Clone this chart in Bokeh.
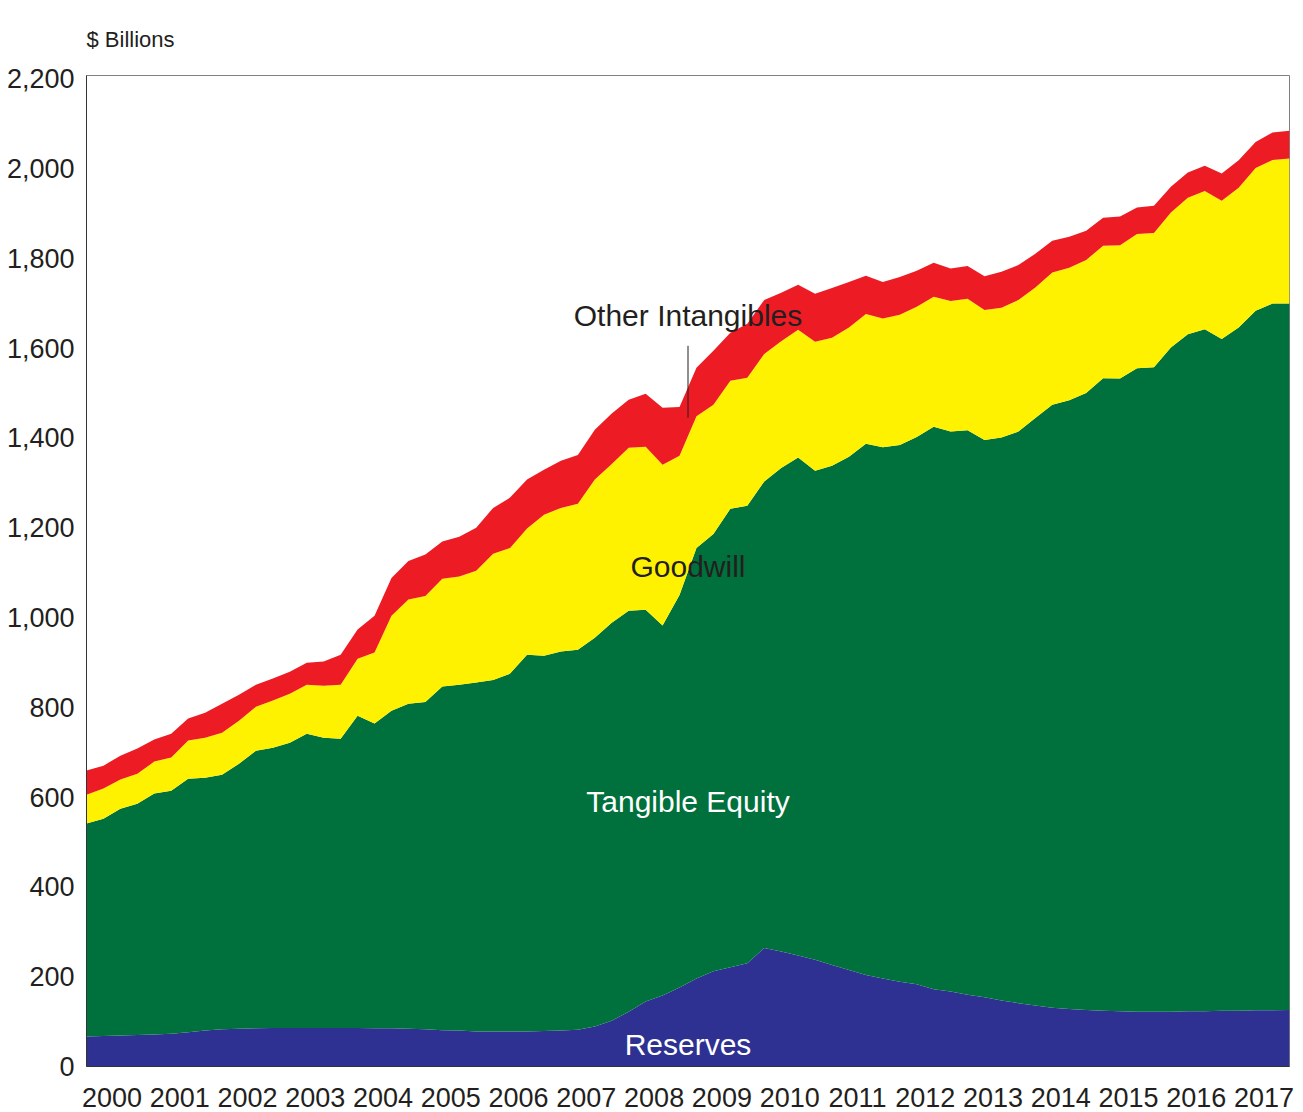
from bokeh.plotting import figure
from bokeh.models import ColumnDataSource, FixedTicker, NumeralTickFormatter, Label, Range1d
from bokeh.embed import file_html
from bokeh.resources import INLINE

# Tick labels (calendar years); data are quarterly, 2000Q1 .. 2017Q4
years = ["2000", "2001", "2002", "2003", "2004", "2005", "2006", "2007", "2008",
         "2009", "2010", "2011", "2012", "2013", "2014", "2015", "2016", "2017"]
quarters = [f"{y}Q{q}" for y in years for q in range(1, 5)]

# $ billions
reserves = [67, 68, 69, 70, 71, 73, 76, 80, 83, 84, 85, 86, 86, 86, 86, 86,
            86, 85, 85, 84, 83, 81, 80, 78, 78, 78, 78, 79, 80, 82, 89, 102,
            122, 145, 158, 176, 196, 212, 221, 230, 264, 256, 247, 238, 226, 215, 204, 196,
            189, 183, 172, 167, 160, 154, 147, 141, 136, 131, 128, 126, 124, 123, 122, 122,
            122, 123, 123, 124, 124, 125, 125, 126]
tangible_equity = [474, 484, 505, 515, 537, 541, 565, 563, 567, 590, 618, 624, 635, 655, 646, 644,
                   695, 679, 707, 724, 729, 765, 770, 777, 783, 797, 839, 836, 844, 846, 866, 886,
                   893, 872, 824, 874, 959, 974, 1021, 1019, 1039, 1077, 1109, 1089, 1112, 1143, 1183, 1183,
                   1195, 1219, 1253, 1247, 1257, 1241, 1254, 1273, 1308, 1343, 1356, 1374, 1409, 1409, 1433, 1435,
                   1479, 1508, 1519, 1496, 1522, 1558, 1574, 1573]
goodwill = [64, 67, 65, 67, 71, 74, 85, 89, 93, 96, 98, 105, 109, 109, 116, 120,
            127, 158, 212, 232, 236, 240, 241, 249, 281, 280, 281, 314, 320, 325, 352, 354,
            363, 363, 358, 310, 293, 288, 285, 285, 284, 282, 285, 287, 285, 288, 289, 287,
            290, 290, 289, 291, 293, 290, 289, 293, 291, 294, 295, 296, 295, 297, 299, 299,
            301, 304, 308, 308, 311, 318, 320, 323]
other_intangibles = [54, 51, 53, 56, 49, 53, 49, 56, 65, 58, 49, 49, 49, 49, 54, 67,
                     65, 82, 84, 86, 92, 83, 89, 96, 102, 112, 109, 100, 105, 109, 111, 112,
                     107, 118, 127, 109, 108, 120, 107, 120, 120, 108, 100, 107, 111, 101, 85, 81,
                     84, 80, 76, 72, 73, 75, 80, 78, 75, 71, 69, 65, 62, 64, 59, 61,
                     57, 56, 56, 61, 61, 58, 61, 62]

series_names = ["Reserves", "Tangible Equity", "Goodwill", "Other Intangibles"]
colors = ["#2E3192", "#00703C", "#FFF200", "#ED1C24"]

source = ColumnDataSource(dict(
    x=list(range(len(quarters))),
    q=quarters,
    Reserves=reserves,
    **{"Tangible Equity": tangible_equity},
    Goodwill=goodwill,
    **{"Other Intangibles": other_intangibles},
))

FONT = "Liberation Sans"
TXT = "#231F20"
n = len(quarters)

p = figure(width=1301, height=1112,
           x_range=Range1d(0, n - 1), y_range=Range1d(0, 2207),
           output_backend="svg", toolbar_location=None,
           min_border_left=86, min_border_top=75, min_border_right=12, min_border_bottom=46)

p.varea_stack(stackers=series_names, x="x", color=colors, source=source)

# unit caption above the frame, left aligned with it
p.title.text = "$ Billions"
p.title.text_font = FONT
p.title.text_font_size = "22px"
p.title.text_font_style = "normal"
p.title.text_color = TXT
p.title.align = "left"
p.title.standoff = 47

# axes
p.xgrid.visible = False
p.ygrid.visible = False
p.outline_line_color = "#808080"
p.outline_line_width = 1

bottom_axis = p.below[0]
left_axis = p.left[0]

left_axis.ticker = FixedTicker(ticks=list(range(0, 2201, 200)))
left_axis.formatter = NumeralTickFormatter(format="0,0")
tick_pos = [1.5 + 4 * k for k in range(len(years))]
bottom_axis.ticker = FixedTicker(ticks=tick_pos)
bottom_axis.major_label_overrides = {t: y for t, y in zip(tick_pos, years)}

for ax in (bottom_axis, left_axis):
    ax.major_tick_line_color = None
    ax.minor_tick_line_color = None
    ax.major_tick_out = 0
    ax.major_tick_in = 0
    ax.minor_tick_out = 0
    ax.minor_tick_in = 0
    ax.axis_line_color = "#333333"
    ax.axis_line_width = 1
    ax.major_label_text_font = FONT
    ax.major_label_text_font_size = "27px"
    ax.major_label_text_color = TXT
    ax.major_label_text_line_height = 0.8
bottom_axis.major_label_standoff = 21
left_axis.major_label_standoff = 12

# series labels
mid = (n - 1) / 2
for name, yv, col in [("Other Intangibles", 1672, TXT), ("Goodwill", 1113, TXT),
                      ("Tangible Equity", 590, "white"), ("Reserves", 49, "white")]:
    p.add_layout(Label(x=mid, y=yv, text=name, text_font=FONT, text_font_size="30px",
                       text_color=col, text_align="center", text_baseline="middle"))
p.segment(x0=[mid], y0=[1445], x1=[mid], y1=[1605], line_color=TXT, line_width=1)

open("out.html", "w").write(file_html(p, INLINE))
